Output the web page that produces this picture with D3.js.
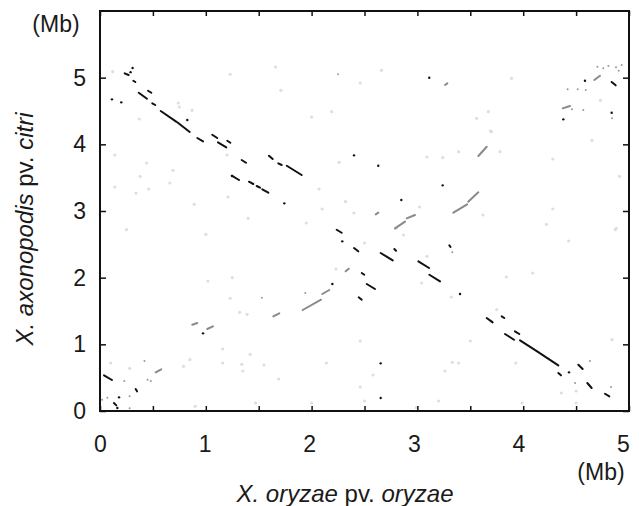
<!DOCTYPE html>
<html>
<head>
<meta charset="utf-8">
<script src="https://cdn.jsdelivr.net/npm/d3@7"></script>
<style>
  html, body { margin: 0; padding: 0; background: #fff; }
  svg { display: block; font-family: "Liberation Sans", Arial, sans-serif; }
</style>
</head>
<body>
<svg id="chart" width="639" height="506"></svg>
<script>
// ---- data (Mb) ----
const xTickValues = [0, 0.5, 1, 1.5, 2, 2.5, 3, 3.5, 4, 4.5, 5];
const xTickLabels = ["0", "", "1", "", "2", "", "3", "", "4", "", "5"];
const yTickValues = [0, 1, 2, 3, 4, 5];
const yTickLabels = ["0", "1", "2", "3", "4", "5"];

// inverted matches (black): [x1, y1, x2, y2]
const reverseHits = [
  [0.233,5.065,0.270,5.040],[0.315,4.954,0.334,4.935],[0.366,4.774,0.444,4.684],
  [0.454,4.804,0.485,4.774],[0.494,4.615,0.522,4.590],[0.574,4.500,0.720,4.340],
  [0.730,4.330,0.848,4.185],[0.920,4.095,0.974,4.045],[1.061,4.144,1.108,4.095],
  [1.115,4.030,1.194,3.955],[1.203,4.054,1.232,4.024],[1.339,3.765,1.380,3.724],
  [1.597,3.829,1.632,3.780],[1.685,3.715,1.717,3.690],[1.765,3.679,1.906,3.540],
  [1.245,3.529,1.314,3.465],[1.408,3.439,1.449,3.405],[1.481,3.375,1.512,3.349],
  [1.534,3.325,1.591,3.274],[4.836,4.935,4.874,4.885],[0.038,0.535,0.113,0.465],
  [0.132,0.120,0.154,0.085],[0.337,0.330,0.350,0.295],[2.237,2.719,2.284,2.674],
  [2.401,2.445,2.441,2.395],[2.474,2.070,2.498,2.044],[2.445,1.705,2.474,1.669],
  [2.653,2.370,2.767,2.260],[3.009,2.245,3.110,2.145],[3.113,2.044,3.214,1.945],
  [2.521,1.905,2.599,1.830],[2.782,2.430,2.798,2.404],[3.302,2.485,3.313,2.460],
  [3.655,1.395,3.711,1.330],[3.797,1.420,3.821,1.395],[3.922,1.195,3.963,1.155],
  [3.828,1.155,3.913,1.069],[3.970,1.060,4.150,0.875],[4.160,0.865,4.332,0.685],
  [4.332,0.570,4.357,0.535],[4.521,0.694,4.562,0.630],[4.606,0.420,4.647,0.345],
  [4.773,0.259,4.814,0.220]
];
const reverseDots = [
  [0.289,5.083],[0.308,5.145],[0.113,4.675],[0.201,4.630],[0.825,4.365],[1.248,3.525],
  [1.742,3.115],[2.401,3.835],[2.630,3.679],[3.112,4.999],[3.239,3.385],[2.848,3.165],
  [4.584,4.954],[4.379,4.375],[4.836,4.474],[0.164,0.045],[0.180,0.205],[0.974,1.165],
  [2.290,2.545],[2.196,1.905],[3.403,1.755],[2.653,0.715],[2.653,0.195],[4.433,0.580]
];
// collinear matches (gray): [x1, y1, x2, y2]
const forwardHits = [
  [3.576,3.825,3.655,3.964],[3.340,2.975,3.470,3.100],[3.480,3.140,3.576,3.280],
  [2.788,2.740,2.883,2.840],[2.899,2.890,2.977,2.940],[2.606,2.950,2.631,2.975],
  [3.261,4.890,3.283,4.915],[4.672,4.965,4.726,5.029],[4.373,4.540,4.442,4.575],
  [0.872,1.294,0.919,1.320],[1.014,1.230,1.068,1.270],[0.526,0.580,0.579,0.625],
  [1.916,1.515,2.089,1.669],[2.101,1.755,2.167,1.815],[1.638,1.420,1.695,1.465],
  [2.322,2.095,2.351,2.134]
];
const forwardDots = [
  [4.701,5.164],[4.757,5.140],[4.805,5.175],[4.877,5.155],[4.903,5.104],[4.931,5.190],
  [4.461,4.525],[4.568,4.515],[4.420,4.825],[4.515,4.825],[4.591,4.815],[4.84,4.39],
  [0.45,0.47],[0.48,0.45],[0.42,0.75],[0.02,0.17],[0.07,0.20],[0.23,0.45],[0.28,0.22],
  [0.28,0.04],[1.53,1.70],[1.94,1.77],[3.33,2.38],[4.63,0.75],[4.49,0.42],[4.83,0.36],
  [2.25,5.05]
];
// weak matches (very light)
const faintDots = [
  [0.12,5.09],[0.74,4.62],[0.75,4.56],[0.87,4.51],[0.37,4.38],[0.14,3.84],[0.44,3.72],
  [0.38,3.52],[0.69,3.61],[0.66,3.42],[0.14,3.36],[0.34,3.27],[0.46,3.33],[0.89,3.10],
  [1.21,3.21],[1.23,5.05],[1.20,3.84],[1.66,5.16],[2.46,4.92],[1.71,4.81],[2.00,4.41],
  [2.19,4.49],[2.26,3.73],[2.07,3.33],[2.10,3.03],[2.32,3.14],[2.40,2.97],[1.40,2.89],
  [1.95,2.82],[2.66,5.11],[3.67,4.49],[3.56,4.39],[3.69,4.20],[3.39,3.89],[3.24,3.80],
  [3.09,3.81],[3.02,3.06],[3.62,2.94],[3.89,4.99],[3.70,4.19],[3.78,3.89],[4.28,3.78],
  [4.65,4.06],[4.73,4.66],[4.91,3.52],[4.28,3.03],[4.22,2.80],[4.88,2.74],[0.25,2.72],
  [1.00,2.65],[1.02,1.95],[1.25,2.00],[1.23,1.69],[1.16,0.93],[1.16,0.72],[0.85,0.77],
  [0.79,0.67],[0.10,0.72],[0.28,0.64],[0.90,0.07],[1.32,1.48],[1.39,1.45],[1.42,0.85],
  [1.34,0.70],[1.55,0.69],[1.35,0.60],[1.69,0.48],[2.14,0.72],[2.46,1.05],[2.46,0.36],
  [1.47,0.12],[2.00,0.12],[2.23,2.13],[2.50,2.52],[2.80,2.74],[2.87,2.64],[3.09,2.32],
  [3.04,1.92],[3.32,1.71],[3.50,1.05],[3.33,0.73],[3.39,0.72],[3.26,0.60],[2.58,0.54],
  [3.20,0.15],[2.50,0.15],[2.99,0.05],[4.43,2.55],[4.87,2.72],[4.09,2.07],[3.84,2.01],
  [3.75,1.52],[3.70,1.35],[3.93,0.72],[4.84,1.07],[4.50,0.30],[4.36,0.27],[3.99,0.12],
  [4.50,0.12]
];

(function () {
// ---- layout ----
const svg = d3.select("#chart");
const mLeft = 100, mRight = 629, mTop = 11, mBottom = 411;
const x = d3.scaleLinear().domain([0, 5]).range([mLeft, mRight]);
const y = d3.scaleLinear().domain([0, 6]).range([mBottom, mTop]);
const fontSize = 23;
const titleSize = 24;

// marks
const g = svg.append("g");
g.selectAll("circle.faint").data(faintDots).join("circle")
  .attr("class", "faint").attr("cx", d => x(d[0])).attr("cy", d => y(d[1]))
  .attr("r", 1.6).attr("fill", "#dedede");
g.selectAll("circle.fdot").data(forwardDots).join("circle")
  .attr("class", "fdot").attr("cx", d => x(d[0])).attr("cy", d => y(d[1]))
  .attr("r", 1.0).attr("fill", "#999");
g.selectAll("line.fwd").data(forwardHits).join("line")
  .attr("class", "fwd")
  .attr("x1", d => x(d[0])).attr("y1", d => y(d[1]))
  .attr("x2", d => x(d[2])).attr("y2", d => y(d[3]))
  .attr("stroke", "#8a8a8a").attr("stroke-width", 2).attr("stroke-linecap", "round");
g.selectAll("line.rev").data(reverseHits).join("line")
  .attr("class", "rev")
  .attr("x1", d => x(d[0])).attr("y1", d => y(d[1]))
  .attr("x2", d => x(d[2])).attr("y2", d => y(d[3]))
  .attr("stroke", "#111").attr("stroke-width", 2).attr("stroke-linecap", "round");
g.selectAll("circle.rdot").data(reverseDots).join("circle")
  .attr("class", "rdot").attr("cx", d => x(d[0])).attr("cy", d => y(d[1]))
  .attr("r", 1.2).attr("fill", "#111");

// axes
function styleAxis(sel) {
  sel.select(".domain").remove();
  sel.selectAll(".tick line").attr("stroke", "#111").attr("stroke-width", 1.5);
  sel.selectAll(".tick text").attr("fill", "#1a1a1a").attr("font-size", fontSize)
    .attr("font-family", "Liberation Sans, Arial, sans-serif");
}
svg.append("g").attr("transform", `translate(0,${mBottom})`)
  .call(d3.axisBottom(x).tickValues(xTickValues).tickSize(-5).tickPadding(25)
    .tickFormat((d, i) => xTickLabels[i]))
  .call(styleAxis)
  .call(sel => sel.selectAll(".tick text").attr("dx", d => -1.2 * d));
svg.append("g").attr("transform", `translate(0,${mTop})`)
  .call(d3.axisTop(x).tickValues(xTickValues).tickSize(-5).tickFormat(""))
  .call(styleAxis);
svg.append("g").attr("transform", `translate(${mLeft},0)`)
  .call(d3.axisLeft(y).tickValues(yTickValues).tickSize(-6).tickPadding(14)
    .tickFormat((d, i) => yTickLabels[i]))
  .call(styleAxis);
svg.append("g").attr("transform", `translate(${mRight},0)`)
  .call(d3.axisRight(y).tickValues(yTickValues).tickSize(-6).tickFormat(""))
  .call(styleAxis);

// frame
svg.append("rect").attr("x", mLeft).attr("y", mTop)
  .attr("width", mRight - mLeft).attr("height", mBottom - mTop)
  .attr("fill", "none").attr("stroke", "#111").attr("stroke-width", 2);

// unit labels
svg.append("text").attr("x", 56).attr("y", 32).attr("text-anchor", "middle")
  .attr("font-size", fontSize).attr("fill", "#1a1a1a").text("(Mb)");
svg.append("text").attr("x", 601).attr("y", 480).attr("text-anchor", "middle")
  .attr("font-size", fontSize).attr("fill", "#1a1a1a").text("(Mb)");

// axis titles
const xt = svg.append("text").attr("x", 345).attr("y", 502).attr("text-anchor", "middle")
  .attr("font-size", titleSize).attr("fill", "#1a1a1a");
xt.append("tspan").attr("font-style", "italic").text("X. oryzae");
xt.append("tspan").text(" pv. ");
xt.append("tspan").attr("font-style", "italic").text("oryzae");

const yt = svg.append("text").attr("transform", "translate(33,229) rotate(-90)")
  .attr("text-anchor", "middle").attr("font-size", titleSize).attr("fill", "#1a1a1a");
yt.append("tspan").attr("font-style", "italic").text("X. axonopodis");
yt.append("tspan").text(" pv. ");
yt.append("tspan").attr("font-style", "italic").text("citri");
})();
</script>
</body>
</html>
